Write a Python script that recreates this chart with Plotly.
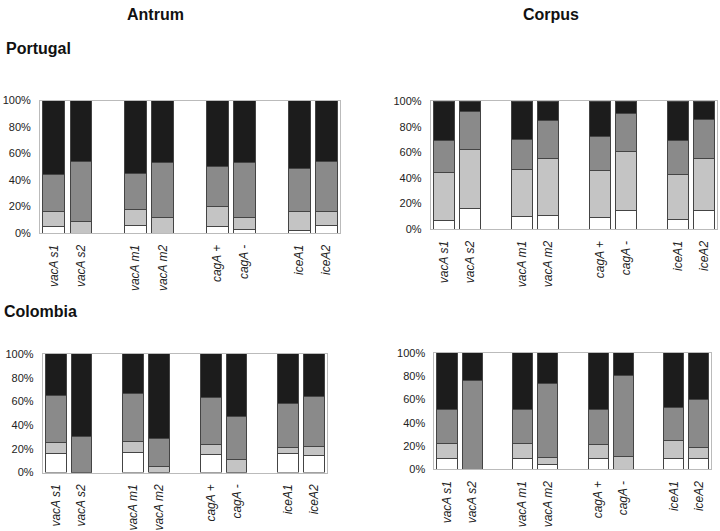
import plotly.graph_objects as go

categories = ["vacA s1", "vacA s2", "vacA m1", "vacA m2", "cagA +", "cagA -", "iceA1", "iceA2"]
positions = [0, 1, 3, 4, 6, 7, 9, 10]

# segment values per bar (white, light, medium); dark fills to 100%
# Portugal Antrum
pa_white = [5, 0, 6, 0, 5, 3, 2, 6]
pa_light = [11.5, 9, 12, 12, 15, 9, 14, 10]
pa_medium = [27.5, 45, 27, 41, 30, 41, 33, 38]
# Portugal Corpus
pc_white = [7, 16, 9.5, 10.5, 9, 14.5, 7.5, 14.5]
pc_light = [37.5, 46, 37, 44.5, 37, 46.5, 35.5, 40.5]
pc_medium = [24.5, 30, 23.5, 30, 26, 29, 26, 31]
# Colombia Antrum
ca_white = [16, 0, 17, 0, 15.5, 0, 16, 14.5]
ca_light = [9.5, 0, 9, 5, 8.5, 11, 5.5, 7.5]
ca_medium = [39.5, 30, 40.5, 24, 39, 36, 36.5, 42]
# Colombia Corpus
cc_white = [9, 0, 9, 4.5, 9, 0, 9, 9]
cc_light = [13, 0, 13, 5.5, 12, 11, 16, 10]
cc_medium = [29.5, 76, 29, 64, 30, 70, 28.5, 41]

panels = [
    (pa_white, pa_light, pa_medium),
    (pc_white, pc_light, pc_medium),
    (ca_white, ca_light, ca_medium),
    (cc_white, cc_light, cc_medium),
]

W, H = 720, 531

def fx(x):
    return x / W

def fy(y):
    return 1 - y / H

# (x-left, x-right, y at 100%, y at 0%) in window pixels
geom = [
    (40, 340, 96.7, 232.3),
    (430.8, 716.8, 97.3, 228.3),
    (42.8, 327.1, 356, 477.3),
    (434.4, 711.4, 355, 474),
]

colors = ["#ffffff", "#c4c4c4", "#8a8a8a", "#1c1c1c"]

fig = go.Figure()
layout = dict(
    width=W, height=H, margin=dict(l=0, r=0, t=0, b=0),
    paper_bgcolor="white", plot_bgcolor="white",
    barmode="stack", showlegend=False,
    font=dict(family="Liberation Sans, Arial, sans-serif", color="#333333"),
)

ticktext = ["<i>" + c + "</i>" for c in categories]

for i, (seg, g) in enumerate(zip(panels, geom)):
    n = "" if i == 0 else str(i + 1)
    white, light, medium = seg
    dark = [100 - (w + l + m) for w, l, m in zip(white, light, medium)]
    for vals, col in zip([white, light, medium, dark], colors):
        fig.add_trace(go.Bar(
            x=positions, y=vals, xaxis="x" + n, yaxis="y" + n,
            width=0.8, marker=dict(color=col, line=dict(color="#444444", width=1)),
            hoverinfo="skip",
        ))
    layout["xaxis" + n] = dict(
        domain=[fx(g[0]), fx(g[1])], anchor="y" + n, range=[-0.5, 10.5],
        tickmode="array", tickvals=positions, ticktext=ticktext, tickangle=-90,
        tickfont=dict(size=12, color="#222222"), showline=True, linecolor="#bbbbbb",
        mirror=True, showgrid=False, zeroline=False, ticks="", ticklabelstandoff=6,
    )
    layout["yaxis" + n] = dict(
        domain=[fy(g[3]), fy(g[2])], anchor="x" + n, range=[0, 100],
        tickmode="array", tickvals=[0, 20, 40, 60, 80, 100],
        ticktext=["0%", "20%", "40%", "60%", "80%", "100%"],
        tickfont=dict(size=11, color="#222222"), showline=True, linecolor="#bbbbbb",
        mirror=True, showgrid=False, zeroline=False, ticks="", ticklabelstandoff=6,
    )

fig.update_layout(**layout)

anns = []
def paper_text(txt, x, y, size, xanchor="center"):
    anns.append(dict(text=txt, x=fx(x), y=fy(y), xref="paper", yref="paper",
                     showarrow=False, xanchor=xanchor, yanchor="middle",
                     font=dict(size=size, color="#111111")))

paper_text("<b>Antrum</b>", 155, 9, 16)
paper_text("<b>Corpus</b>", 551, 9, 16)
paper_text("<b>Portugal</b>", 4, 43, 16, "left")
paper_text("<b>Colombia</b>", 2, 313, 16, "left")

stars = [("x2", "y2", 0.5, "**"), ("x2", "y2", 6.5, "**"), ("x2", "y2", 9.5, "*"),
         ("x3", "y3", 0.5, "**"), ("x3", "y3", 3.5, "**")]
for xr, yr, x, s in stars:
    anns.append(dict(text=s, x=x, y=106, xref=xr, yref=yr, showarrow=False,
                     font=dict(size=12, color="#555555")))

fig.update_layout(annotations=anns)
fig.write_html("out.html", config={"displayModeBar": False, "staticPlot": True},
               post_script="document.body.style.margin='0';")
